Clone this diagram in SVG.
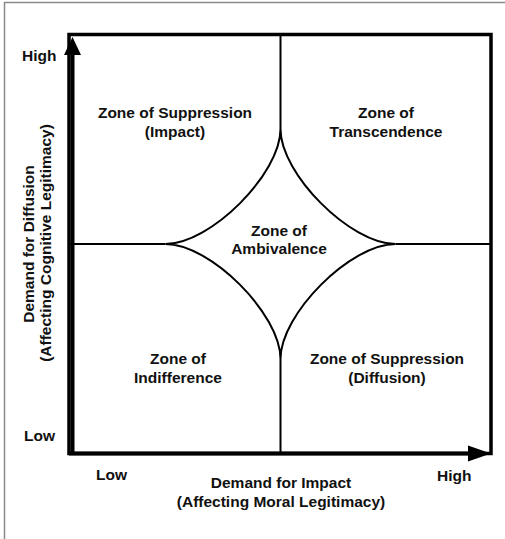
<svg xmlns="http://www.w3.org/2000/svg" width="505" height="539" viewBox="0 0 505 539">
  <style>
    .lbl { font-family: "Liberation Sans", Arial, sans-serif; font-size: 15.5px; font-weight: bold; fill: #111; }
    .mid { text-anchor: middle; }
    .frame { fill: none; stroke: #8a8a8a; stroke-width: 1.5; }
    .box { fill: none; stroke: #000; stroke-width: 3.5; }
    .axis { stroke: #000; stroke-width: 4; fill: none; }
    .div { fill: none; stroke: #000; stroke-width: 2; }
  </style>
  <rect width="505" height="539" fill="#fff"/>
  <!-- outer frame (left and top edges) -->
  <path class="frame" d="M4.5,539 V2.5 H505"/>

  <!-- matrix box -->
  <rect class="box" x="69" y="34.5" width="422" height="419"/>

  <!-- dividers and the ambivalence star -->
  <g id="connectors">
    <path class="div" d="M280.5,34.5 V129 M280.5,359 V453.5 M69,244 H165.5 M395.5,244 H491"/>
    <path class="div" d="M280.5,129 C280.5,174 210.5,244 165.5,244 C210.5,244 280.5,314 280.5,359 C280.5,314 350.5,244 395.5,244 C350.5,244 280.5,174 280.5,129 Z"/>
  </g>

  <!-- axes -->
  <g id="y-axis">
    <line class="axis" x1="72.5" y1="455" x2="72.5" y2="50"/>
    <polygon points="72.5,37 64,55 81,55" fill="#000"/>
    <text class="lbl" x="22" y="61">High</text>
    <text class="lbl" x="24" y="441">Low</text>
    <text class="lbl mid" transform="translate(33.5,244) rotate(-90)">Demand for Diffusion</text>
    <text class="lbl mid" transform="translate(50.5,243) rotate(-90)">(Affecting Cognitive Legitimacy)</text>
  </g>
  <g id="x-axis">
    <line class="axis" x1="69" y1="453.5" x2="472" y2="453.5"/>
    <polygon points="491,453.5 468,445.5 468,461.5" fill="#000"/>
    <text class="lbl" x="96" y="480">Low</text>
    <text class="lbl" x="437" y="481">High</text>
    <text class="lbl mid" x="281" y="488">Demand for Impact</text>
    <text class="lbl mid" x="281" y="507">(Affecting Moral Legitimacy)</text>
  </g>

  <!-- zones -->
  <g id="zone-suppression-impact">
    <text class="lbl mid" x="175" y="118">Zone of Suppression</text>
    <text class="lbl mid" x="175" y="137">(Impact)</text>
  </g>
  <g id="zone-transcendence">
    <text class="lbl mid" x="386" y="118">Zone of</text>
    <text class="lbl mid" x="386" y="137">Transcendence</text>
  </g>
  <g id="zone-ambivalence">
    <text class="lbl mid" x="279" y="236">Zone of</text>
    <text class="lbl mid" x="279" y="254">Ambivalence</text>
  </g>
  <g id="zone-indifference">
    <text class="lbl mid" x="178" y="364">Zone of</text>
    <text class="lbl mid" x="178" y="383">Indifference</text>
  </g>
  <g id="zone-suppression-diffusion">
    <text class="lbl mid" x="387" y="364">Zone of Suppression</text>
    <text class="lbl mid" x="387" y="383">(Diffusion)</text>
  </g>
</svg>
